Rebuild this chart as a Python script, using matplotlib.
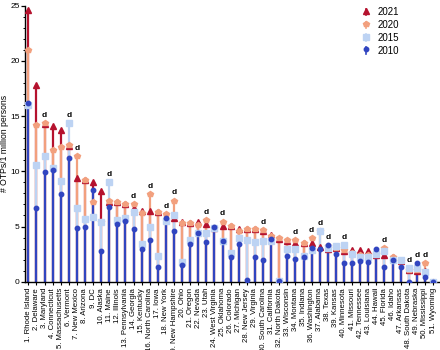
import matplotlib
matplotlib.use("Agg")
import matplotlib.pyplot as plt
from matplotlib.lines import Line2D
from matplotlib.legend_handler import HandlerBase
from matplotlib.ticker import MultipleLocator

plt.rcParams['font.family'] = ['Liberation Sans', 'DejaVu Sans']

states = ["Rhode Island", "Delaware", "Maryland", "Connecticut", "Massachusetts",
          "Vermont", "New Mexico", "Arizona", "DC", "Alaska", "Maine", "Illinois",
          "Pennsylvania", "Georgia", "Kentucky", "North Carolina", "Iowa", "New York",
          "New Hampshire", "Ohio", "Oregon", "Nevada", "Utah", "West Virginia",
          "Oklahoma", "Colorado", "Michigan", "New Jersey", "Virginia",
          "South Carolina", "California", "North Dakota", "Wisconsin", "Montana",
          "Indiana", "Washington", "Alabama", "Texas", "Kansas", "Minnesota",
          "Missouri", "Tennessee", "Louisiana", "Hawaii", "Florida", "Idaho",
          "Arkansas", "South Dakota", "Nebraska", "Mississippi", "Wyoming"]

v2010 = [16.2, 6.7, 9.9, 10.1, 7.9, 11.2, 4.9, 5.0, 8.3, 2.8, 6.8, 5.2, 5.5, 4.8, 3.0,
         3.8, 1.35, 5.75, 4.6, 1.5, 3.45, 4.45, 3.6, 5.0, 3.7, 2.25, 3.4, 0.15, 2.2,
         2.0, 3.85, 0.05, 2.33, 2.06, 2.2, 3.02, 3.0, 3.3, 2.5, 1.7, 1.7, 1.87, 1.78,
         2.93, 1.3, 1.95, 1.3, 0.0, 1.66, 0.42, 0.0]
v2015 = [16.0, 10.6, 11.4, 10.3, 9.1, 14.4, 6.7, 5.7, 5.9, 5.4, 9.0, 5.6, 5.8, 6.3, 3.4,
         5.0, 2.3, 5.5, 6.05, 1.8, 3.8, 4.4, 4.4, 4.9, 3.7, 2.57, 4.0, 3.8, 3.62,
         3.7, 3.7, 0.05, 2.97, 2.95, 2.3, 2.9, 4.6, 3.1, 3.25, 3.35, 2.5, 2.2, 2.27,
         2.5, 2.75, 1.95, 2.0, 1.2, 1.2, 0.9, 0.0]
v2020 = [21.0, 14.2, 14.4, 11.9, 12.2, 12.4, 11.4, 9.2, 7.2, 5.4, 7.3, 7.2, 7.0, 7.0, 6.2,
         7.9, 6.3, 6.1, 7.35, 5.35, 5.35, 5.15, 5.6, 4.9, 5.45, 5.04, 4.6, 4.8, 4.74,
         4.7, 4.1, 3.95, 3.8, 3.8, 3.54, 3.95, 4.55, 3.2, 3.1, 2.87, 2.6, 2.38, 2.4,
         2.5, 3.05, 2.25, 1.9, 1.1, 1.1, 1.7, 0.0]
v2021 = [24.6, 17.8, 14.3, 14.1, 13.7, 12.3, 9.4, 9.2, 9.0, 8.2, 7.2, 7.2, 7.0, 6.65, 6.4,
         6.4, 6.3, 5.9, 5.75, 5.45, 5.35, 5.42, 5.2, 4.9, 5.02, 5.04, 4.78, 4.8, 4.74,
         4.55, 4.25, 3.9, 3.65, 3.52, 3.54, 3.48, 3.17, 2.95, 3.1, 2.8, 2.9, 2.85, 2.76,
         2.45, 2.4, 2.25, 1.9, 1.06, 0.97, 0.98, 0.0]
decrease = [3, 6, 7, 11, 14, 16, 18, 19, 23, 25, 30, 34, 36, 37, 38, 40, 45, 48, 49, 50]

years = ["2021", "2020", "2015", "2010"]
series = [v2021, v2020, v2015, v2010]
colors = ["#b5122e", "#f2a07e", "#bdd3f3", "#3145c0"]
markers = ["^", "p", "s", "o"]
msizes = [4.2, 4.2, 4.8, 3.2]

fig = plt.figure(figsize=(4.4, 3.5), dpi=100)
ax = fig.add_axes([0.057, 0.195, 0.94, 0.789])

labels = [f"{i + 1}. {s}" for i, s in enumerate(states)]
xs = list(range(len(states)))

# stems: earlier years drawn on top of later years
for k in range(4):
    ax.vlines(xs, 0, series[k], colors=colors[k], linewidth=1.6, zorder=2 + k * 0.1)

# markers
for k in range(4):
    ax.plot(xs, series[k], linestyle='none', marker=markers[k], ms=msizes[k],
            color=colors[k], mec=colors[k], zorder=4 + k * 0.1)

for s in decrease:
    i = s - 1
    top = max(series[k][i] for k in range(4))
    ax.annotate("d", (i, top), xytext=(0, 3), textcoords='offset points',
                ha='center', va='bottom', fontsize=6, fontweight='bold', zorder=6)

ax.set_xlim(-0.4, 50.7)
ax.set_ylim(0, 25)
ax.set_xticks(xs)
ax.set_xticklabels(labels, rotation=90, fontsize=5.6)
ax.tick_params(axis='x', length=2.5, width=0.8, pad=2)
ax.yaxis.set_major_locator(MultipleLocator(5))
ax.yaxis.set_minor_locator(MultipleLocator(1))
ax.tick_params(axis='y', which='major', length=3.0, width=0.9, labelsize=6, pad=1)
ax.tick_params(axis='y', which='minor', length=1.8, width=0.7)
ax.set_ylabel("# OTPs/1 million persons", fontsize=6.2)
ax.yaxis.set_label_coords(-0.039, 0.5)
for sp in ['top', 'right']:
    ax.spines[sp].set_visible(False)
for sp in ['left', 'bottom']:
    ax.spines[sp].set_linewidth(1.0)


class HandlerStem(HandlerBase):
    def __init__(self, color, marker, ms):
        super().__init__()
        self.color = color
        self.marker = marker
        self.ms = ms

    def create_artists(self, legend, orig_handle, xdescent, ydescent, width,
                       height, fontsize, trans):
        cx = width / 2 - xdescent
        y0 = -ydescent
        y1 = height - ydescent
        ln = Line2D([cx, cx], [y0, y1], color=self.color, lw=1.2, transform=trans)
        mk = Line2D([cx], [y1 - 1.5], marker=self.marker, ms=self.ms,
                    color=self.color, linestyle='none', transform=trans)
        return [ln, mk]


handles = [Line2D([], [], color=c) for c in colors]
hmap = {h: HandlerStem(c, m, ms) for h, c, m, ms in zip(handles, colors, markers, msizes)}
ax.legend(handles, years, handler_map=hmap, loc='upper right',
          bbox_to_anchor=(0.925, 1.025), frameon=False, fontsize=7,
          handlelength=0.6, handletextpad=0.9, labelspacing=0.3)

fig.savefig("out.png", dpi=100)
